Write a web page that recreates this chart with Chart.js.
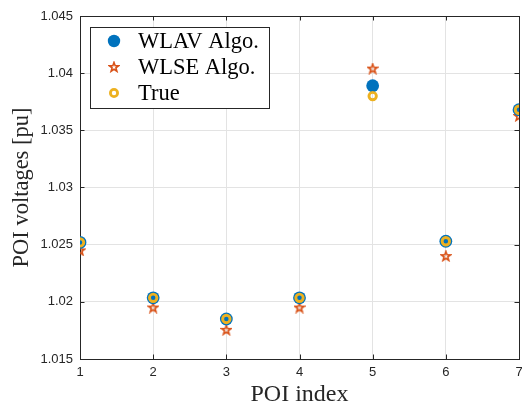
<!DOCTYPE html>
<html>
<head>
<meta charset="utf-8">
<script src="https://cdn.jsdelivr.net/npm/chart.js@4/dist/chart.umd.min.js"></script>
<style>
html,body{margin:0;padding:0;background:#fff;}
#wrap{width:522px;height:405px;position:relative;}
</style>
</head>
<body>
<div id="wrap"><canvas id="c" width="522" height="405"></canvas></div>
<script>
const poiIndex = [1, 2, 3, 4, 5, 6, 7];
const wlav = [1.0252, 1.02035, 1.0185, 1.02035, 1.0389, 1.0253, 1.0368];
const wlse = [1.0245, 1.0195, 1.01755, 1.0195, 1.0404, 1.0240, 1.03625];
const trueV = [1.0252, 1.02035, 1.0185, 1.02035, 1.0380, 1.0253, 1.0368];
const seriesNames = ['WLAV Algo.', 'WLSE Algo.', 'True'];
const xTicks = [1, 2, 3, 4, 5, 6, 7];
const yTicks = [1.015, 1.02, 1.025, 1.03, 1.035, 1.04, 1.045];

const C_BLUE = '#0072BD', C_RED = '#D95319', C_YEL = '#EDB120', AX = '#262626';

function makeStar(color){
  const cv = document.createElement('canvas');
  cv.width = 12; cv.height = 12;
  const g = cv.getContext('2d');
  const R = 4.9, r = 2.0, cx = 6, cy = 6.3;
  g.beginPath();
  for (let i = 0; i < 10; i++){
    const rad = i % 2 === 0 ? R : r;
    const a = -Math.PI/2 + i*Math.PI/5;
    const px = cx + rad*Math.cos(a), py = cy + rad*Math.sin(a);
    if (i === 0) g.moveTo(px, py); else g.lineTo(px, py);
  }
  g.closePath();
  g.strokeStyle = color; g.lineWidth = 1.6; g.lineJoin = 'miter';
  g.stroke();
  return cv;
}
const starImg = makeStar(C_RED);

const pts = (ys) => poiIndex.map((x, i) => ({x: x, y: ys[i]}));

const frame = {
  id: 'frame',
  beforeDatasetsDraw(chart){
    const {ctx, chartArea: a, scales} = chart;
    ctx.save();
    ctx.strokeStyle = AX; ctx.lineWidth = 1;
    ctx.strokeRect(Math.round(a.left)+0.5, Math.round(a.top)+0.5, Math.round(a.right-a.left), Math.round(a.bottom-a.top));
    const tl = 4.5;
    ctx.beginPath();
    xTicks.forEach(v => {
      const x = Math.round(scales.x.getPixelForValue(v)) + 0.5;
      ctx.moveTo(x, a.bottom); ctx.lineTo(x, a.bottom - tl);
      ctx.moveTo(x, a.top); ctx.lineTo(x, a.top + tl);
    });
    yTicks.forEach(v => {
      const y = Math.round(scales.y.getPixelForValue(v)) + 0.5;
      ctx.moveTo(a.left, y); ctx.lineTo(a.left + tl, y);
      ctx.moveTo(a.right, y); ctx.lineTo(a.right - tl, y);
    });
    ctx.stroke();
    ctx.restore();
  },
  afterDatasetsDraw(chart){
    const ctx = chart.ctx;
    ctx.save();
    const bx = 90.5, by = 27.5, bw = 179, bh = 81;
    ctx.fillStyle = '#fff';
    ctx.fillRect(bx, by, bw, bh);
    ctx.strokeStyle = AX; ctx.lineWidth = 1;
    ctx.strokeRect(bx, by, bw, bh);
    const mx = 114, rows = [41, 67, 93];
    ctx.beginPath(); ctx.arc(mx, rows[0], 6.2, 0, Math.PI*2);
    ctx.fillStyle = C_BLUE; ctx.fill();
    ctx.drawImage(starImg, mx - 6, rows[1] - 6);
    ctx.beginPath(); ctx.arc(mx, rows[2], 3.6, 0, Math.PI*2);
    ctx.strokeStyle = C_YEL; ctx.lineWidth = 2.8; ctx.stroke();
    ctx.fillStyle = '#000';
    ctx.font = '22.5px "Liberation Serif", "Times New Roman", serif';
    ctx.textBaseline = 'middle'; ctx.textAlign = 'left';
    seriesNames.forEach((n, i) => ctx.fillText(n, 138, rows[i] + 1));
    ctx.restore();
  }
};

new Chart(document.getElementById('c'), {
  type: 'scatter',
  data: {
    datasets: [
      {label: seriesNames[0], data: pts(wlav), order: 1, pointStyle: 'circle', pointRadius: 6.4, pointBackgroundColor: C_BLUE, pointBorderColor: C_BLUE, pointBorderWidth: 0, showLine: false},
      {label: seriesNames[1], data: pts(wlse), order: 2, pointStyle: starImg, pointRadius: 6, showLine: false},
      {label: seriesNames[2], data: pts(trueV), order: 0, pointStyle: 'circle', pointRadius: 3.7, pointBackgroundColor: 'rgba(0,0,0,0)', pointBorderColor: C_YEL, pointBorderWidth: 2.9, showLine: false}
    ]
  },
  options: {
    responsive: false,
    animation: false,
    events: [],
    layout: {autoPadding: false, padding: {top: 16, right: 3, left: 0, bottom: 0}},
    plugins: {legend: {display: false}, tooltip: {enabled: false}},
    scales: {
      x: {
        type: 'linear', min: 1, max: 7,
        afterFit(s){ s.height = 46; s.paddingLeft = 0; s.paddingRight = 0; },
        afterBuildTicks(s){ s.ticks = xTicks.map(v => ({value: v})); },
        ticks: {color: AX, font: {family: '"Liberation Sans", Arial, sans-serif', size: 13}, padding: 6, maxRotation: 0, autoSkip: false},
        grid: {color: '#e3e3e3', drawTicks: false},
        border: {display: false},
        title: {display: true, text: 'POI index', color: AX, font: {family: '"Liberation Serif", "Times New Roman", serif', size: 24, lineHeight: 1}, padding: {top: 0, bottom: -2}}
      },
      y: {
        type: 'linear', min: 1.015, max: 1.045,
        afterFit(s){ s.width = 80; s.paddingTop = 0; s.paddingBottom = 0; },
        afterBuildTicks(s){ s.ticks = yTicks.map(v => ({value: v})); },
        ticks: {color: AX, font: {family: '"Liberation Sans", Arial, sans-serif', size: 13}, padding: 7, autoSkip: false,
          callback: v => String(parseFloat(Number(v).toFixed(3)))},
        grid: {color: '#e3e3e3', drawTicks: false},
        border: {display: false},
        title: {display: true, text: 'POI voltages [pu]', color: AX, font: {family: '"Liberation Serif", "Times New Roman", serif', size: 22.5, lineHeight: 1}, padding: {top: 11, bottom: 0}}
      }
    }
  },
  plugins: [frame]
});
</script>
</body>
</html>
